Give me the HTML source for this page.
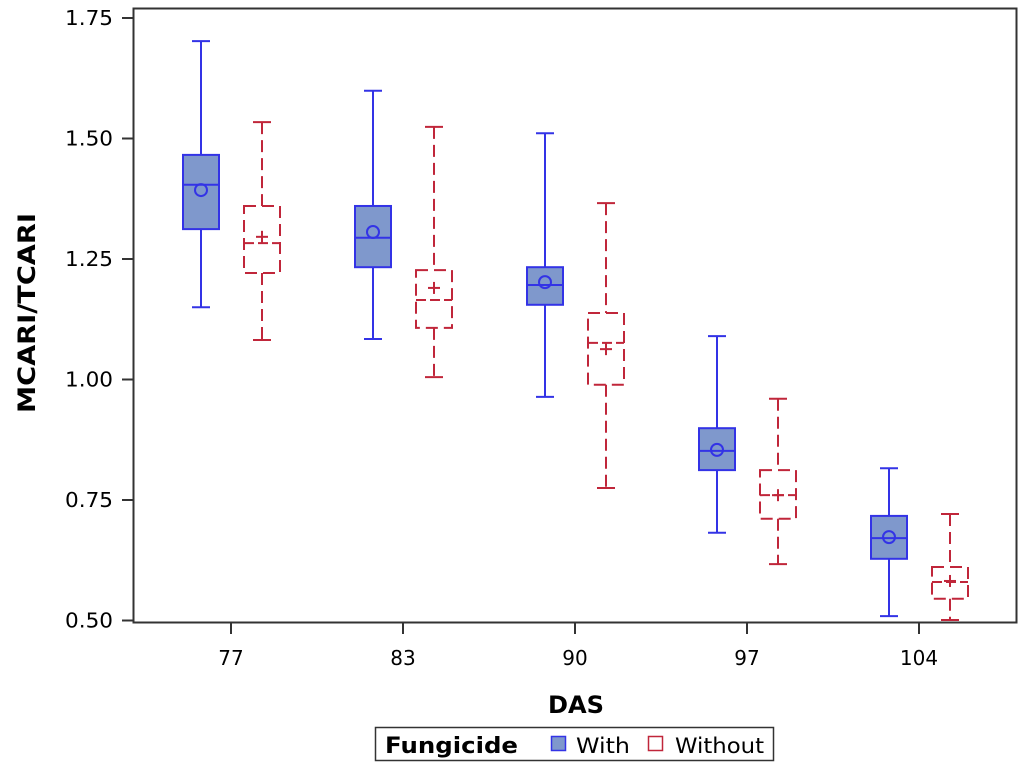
<!DOCTYPE html>
<html><head><meta charset="utf-8"><style>
body{margin:0;background:#fff}
svg text{font-family:"DejaVu Sans","Liberation Sans",sans-serif;fill:#000}
</style></head><body>
<svg id="chart" width="1024" height="766" viewBox="0 0 1024 766" xmlns="http://www.w3.org/2000/svg">
<rect x="133.5" y="8.5" width="883" height="614" fill="none" stroke="#333" stroke-width="2"/>
<g id="yaxis"></g>
<g id="xaxis"></g>
<g id="marks"></g>
<text transform="translate(35,313) rotate(-90)" text-anchor="middle" font-size="24" font-weight="bold" textLength="200" lengthAdjust="spacingAndGlyphs">MCARI/TCARI</text>
<text x="576" y="713" text-anchor="middle" font-size="24" font-weight="bold" textLength="56" lengthAdjust="spacingAndGlyphs">DAS</text>
<g>
<rect x="375.5" y="727.5" width="398" height="33" fill="#fff" stroke="#333" stroke-width="1.5"/>
<text x="385" y="753" font-size="22" font-weight="bold" textLength="133" lengthAdjust="spacingAndGlyphs">Fungicide</text>
<rect x="551.5" y="736.5" width="14" height="14" fill="#7f98cc" stroke="#3333e6" stroke-width="1.5"/>
<text x="576" y="753" font-size="21" textLength="54" lengthAdjust="spacingAndGlyphs">With</text>
<rect x="648.5" y="736.5" width="14" height="14" fill="none" stroke="#c0263a" stroke-width="1.5"/>
<text x="675" y="753" font-size="21" textLength="89" lengthAdjust="spacingAndGlyphs">Without</text>
</g>
</svg>
<script>
const categories=["77","83","90","97","104"];
const yTicks=[0.50,0.75,1.00,1.25,1.50,1.75];
const withMin=[1.150,1.084,0.964,0.682,0.509];
const withQ1=[1.312,1.233,1.155,0.812,0.628];
const withMed=[1.404,1.294,1.196,0.852,0.671];
const withMean=[1.393,1.306,1.202,0.854,0.673];
const withQ3=[1.466,1.360,1.233,0.899,0.717];
const withMax=[1.702,1.599,1.511,1.090,0.816];
const woMin=[1.082,1.005,0.775,0.617,0.501];
const woQ1=[1.221,1.107,0.989,0.711,0.545];
const woMed=[1.283,1.165,1.076,0.760,0.580];
const woMean=[1.296,1.190,1.063,0.760,0.582];
const woQ3=[1.360,1.227,1.138,0.812,0.611];
const woMax=[1.534,1.524,1.366,0.960,0.721];

const NS="http://www.w3.org/2000/svg";
function y(v){return 18+(1.75-v)*482;}
function x(i){return 231+i*172;}
function mk(tag,attrs,parent){const e=document.createElementNS(NS,tag);for(const k in attrs)e.setAttribute(k,attrs[k]);parent.appendChild(e);return e;}
const ya=document.getElementById('yaxis'),xa=document.getElementById('xaxis'),g=document.getElementById('marks');
yTicks.forEach(v=>{
  const t=mk('line',{x1:122,x2:133,y1:y(v),y2:y(v),stroke:'#333','stroke-width':2},ya);
  
  
  const l=mk('text',{x:113,y:y(v)+7,'text-anchor':'end','font-size':20,textLength:48,lengthAdjust:'spacingAndGlyphs'},ya);
  l.textContent=v.toFixed(2);
  
  
});
categories.forEach((c,i)=>{
  const t=mk('line',{x1:x(i),x2:x(i),y1:623,y2:634,stroke:'#333','stroke-width':2},xa);
  
  
  const l=mk('text',{x:x(i),y:665,'text-anchor':'middle','font-size':20},xa);
  l.textContent=c;
  
  
});
function box(cx,mn,q1,md,mean,q3,mx,col,fill,dash,plus,name){
  const grp=mk('g',{stroke:col,'stroke-width':2,fill:'none'},g);
  
  
  const da=dash?{'stroke-dasharray':'12,6'}:{};
  mk('line',Object.assign({x1:cx,x2:cx,y1:y(mx),y2:y(q3)},da),grp);
  mk('line',Object.assign({x1:cx,x2:cx,y1:y(q1),y2:y(mn)},da),grp);
  mk('line',{x1:cx-9,x2:cx+9,y1:y(mx),y2:y(mx)},grp);
  mk('line',{x1:cx-9,x2:cx+9,y1:y(mn),y2:y(mn)},grp);
  mk('rect',Object.assign({x:cx-18,y:y(q3),width:36,height:y(q1)-y(q3),fill:fill},da),grp);
  mk('line',Object.assign({x1:cx-18,x2:cx+18,y1:y(md),y2:y(md)},dash?{'stroke-dasharray':'10,4'}:{}),grp);
  if(plus){
    mk('line',{x1:cx-6,x2:cx+6,y1:y(mean),y2:y(mean)},grp);
    mk('line',{x1:cx,x2:cx,y1:y(mean)-6,y2:y(mean)+6},grp);
  }else{
    mk('circle',{cx:cx,cy:y(mean),r:6},grp);
  }
}
categories.forEach((c,i)=>{
  box(x(i)-30,withMin[i],withQ1[i],withMed[i],withMean[i],withQ3[i],withMax[i],'#3333e6','#7f98cc',false,false,'box-with-'+c);
  box(x(i)+31,woMin[i],woQ1[i],woMed[i],woMean[i],woQ3[i],woMax[i],'#c0263a','none',true,true,'box-without-'+c);
});
</script>
</body></html>
